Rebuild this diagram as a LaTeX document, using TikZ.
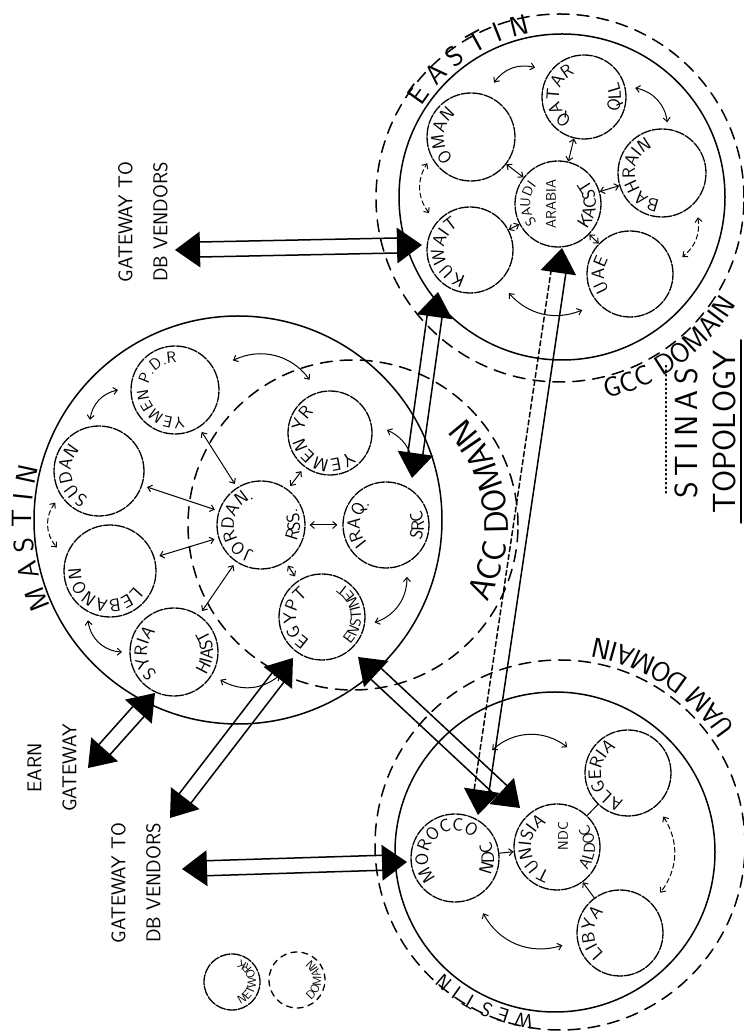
\documentclass[tikz,border=0pt]{standalone}
\usetikzlibrary{calc,arrows.meta,decorations.text}
\newcommand\labf{\fontsize{18}{21}\selectfont\sffamily}
\newcommand\labm{\fontsize{16}{19}\selectfont\sffamily}
\newcommand\labe{\fontsize{15}{18}\selectfont\sffamily}
\newcommand\labs{\fontsize{14}{16}\selectfont\sffamily}
\newcommand\legf{\fontsize{12}{14}\selectfont\sffamily}
\newcommand\bigf{\fontsize{28}{32}\selectfont\sffamily}
\newcommand\gccf{\fontsize{28}{32}\selectfont\sffamily}
\newcommand\accf{\fontsize{34}{38}\selectfont\sffamily}
\newcommand\wesf{\fontsize{20}{24}\selectfont\sffamily}
\newcommand\gwf{\fontsize{20}{35}\selectfont\sffamily}
\newcommand\titf{\fontsize{32}{36}\selectfont\sffamily}
% text along an arc round a named node: node, radius, mid angle, signed half span, text
\newcommand\arclab[5]{%
  \path[decorate,decoration={text along path,text align=center,text={#5}}]
    ($(#1)+({#3-(#4)}:#2pt)$) arc[start angle={#3-(#4)},end angle={#3+(#4)},radius=#2pt];}
% hollow double arrow with two filled heads between two named coordinates
\newcommand\dblarr[3][]{%
  \fill (#2) -- ($(#2)!25pt!(#3)!18pt!90:(#3)$) -- ($(#2)!25pt!(#3)!18pt!-90:(#3)$) -- cycle;
  \fill (#3) -- ($(#3)!25pt!(#2)!18pt!90:(#2)$) -- ($(#3)!25pt!(#2)!18pt!-90:(#2)$) -- cycle;
  \draw[shaft] ($(#2)!23pt!(#3)!7.5pt!90:(#3)$) -- ($(#3)!23pt!(#2)!7.5pt!-90:(#2)$);
  \draw[shaft,#1] ($(#2)!23pt!(#3)!7.5pt!-90:(#3)$) -- ($(#3)!23pt!(#2)!7.5pt!90:(#2)$);}
\begin{document}
\begin{tikzpicture}[x=1pt,y=1pt,line cap=round,
  big/.style={circle,draw,line width=1.5pt,inner sep=0pt,minimum size=#1},
  dom/.style={circle,draw,line width=1.5pt,dash pattern=on 12pt off 8pt,inner sep=0pt,minimum size=#1},
  ctry/.style={circle,draw,line width=1.3pt,dash pattern=on 10pt off 1.5pt,inner sep=0pt,minimum size=#1},
  arr/.style={line width=1pt,{Straight Barb[length=4pt,width=7pt]}-{Straight Barb[length=4pt,width=7pt]}},
  onearr/.style={line width=1pt,-{Straight Barb[length=4pt,width=7pt]}},
  dsh/.style={dash pattern=on 5pt off 3pt},
  shaft/.style={line width=1.5pt}]
\useasboundingbox (0,0) rectangle (744,1034);

% ---- network and domain circles
\node[big=408pt] (mastin) at (238,514) {};
\node[dom=330pt] (acc) at (353,509) {};
\node[big=326pt] (eastin) at (562,837) {};
\node[dom=368pt] (gcc) at (560,836) {};
\node[big=320pt] (westin) at (555,182) {};
\node[dom=370pt] (uam) at (560,189) {};

% ---- MASTIN members
\node[ctry=88pt] (syria) at (174,382) {};
\node[ctry=92pt] (lebanon) at (110,463) {};
\node[ctry=90pt] (sudan) at (99,563) {};
\node[ctry=88pt] (ypdr) at (175,644) {};
\node[ctry=84pt] (yyr) at (330,601) {};
\node[ctry=88pt] (jordan) at (261,509) {};
\node[ctry=86pt] (iraq) at (386,509) {};
\node[ctry=86pt] (egypt) at (322,417) {};
% ---- EASTIN members
\node[ctry=88pt] (oman) at (471,897) {};
\node[ctry=86pt] (kuwait) at (470,784) {};
\node[ctry=84pt] (qatar) at (584,937) {};
\node[ctry=88pt] (bahrain) at (662,861) {};
\node[ctry=86pt] (uae) at (630,760) {};
\node[ctry=86pt] (saudi) at (558,830) {};
% ---- WESTIN members
\node[ctry=88pt] (morocco) at (455,176) {};
\node[ctry=86pt] (tunisia) at (557,187) {};
\node[ctry=86pt] (algeria) at (628,261) {};
\node[ctry=86pt] (libya) at (620,101) {};
% ---- legend
\node[ctry=56pt] (leg1) at (232,52) {};
\node[circle,draw,line width=1.3pt,dash pattern=on 6pt off 5pt,inner sep=0pt,minimum size=56pt] (leg2) at (297,54) {};

% ---- member labels
\arclab{syria}{27}{182}{-85}{|\labf|SYRIA}
\arclab{syria}{39}{0}{80}{|\labf|HIAST}
\arclab{lebanon}{29}{250}{-100}{|\labf|LEBANON}
\arclab{sudan}{28}{190}{-85}{|\labf|SUDAN}
\arclab{ypdr}{27}{187}{-125}{|\labm|YEMEN P.D.R}
\arclab{yyr}{26}{222}{-115}{|\labf|YEMEN YR}
\arclab{jordan}{27}{180}{-100}{|\labf|JORDAN.}
\arclab{jordan}{39}{0}{70}{|\labf|RSS.}
\arclab{iraq}{26}{175}{-85}{|\labf|IRAQ.}
\arclab{iraq}{38}{0}{70}{|\labf|SRC}
\arclab{egypt}{26}{182}{-85}{|\labf|EGYPT}
\arclab{egypt}{39}{8}{85}{|\labe|ENSTINET}
\arclab{oman}{27}{177}{-85}{|\labf|OMAN}
\arclab{kuwait}{26}{188}{-100}{|\labf|KUWAIT}
\arclab{qatar}{25}{177}{-90}{|\labf|QATAR}
\arclab{qatar}{37}{0}{60}{|\labf|QLL}
\arclab{bahrain}{27}{188}{-105}{|\labf|BAHRAIN}
\arclab{uae}{26}{182}{-75}{|\labf|UAE}
\arclab{saudi}{28}{180}{-80}{|\labs|SAUDI}
\node[rotate=90,font=\labs] (arabia) at ($(saudi)+(-7,0)$) {ARABIA};
\arclab{saudi}{38}{0}{70}{|\labf|KACST}
\arclab{morocco}{27}{137}{-105}{|\labf|MOROCCO}
\arclab{morocco}{39}{0}{60}{|\labf|NDC}
\arclab{tunisia}{26}{185}{-95}{|\labf|TUNISIA}
\node[rotate=90,font=\labs] (tndc) at ($(tunisia)+(6,11)$) {NDC};
\arclab{tunisia}{38}{0}{75}{|\labm|ALDOC}
\arclab{algeria}{27}{188}{-100}{|\labf|ALGERIA}
\arclab{libya}{26}{180}{-85}{|\labf|LIBYA}
\arclab{leg1}{24}{0}{88}{|\legf|NETWORK}
\arclab{leg2}{24}{0}{85}{|\legf|DOMAIN}

% ---- network / domain labels
\arclab{mastin}{206}{185}{-30}{|\bigf|M A S T I N}
\arclab{eastin}{167}{124}{-35}{|\bigf|E A S T I N}
\arclab{gcc}{206}{-54}{40}{|\gccf|GCC DOMAIN}
\arclab{acc}{155}{7}{55}{|\accf|ACC DOMAIN}
\arclab{uam}{210}{57}{45}{|\gccf|UAM DOMAIN}
\arclab{westin}{165}{245}{-30}{|\wesf|W E S T I N}

% ---- MASTIN links
\draw[arr] ($(sudan)+(100:52pt)$) to[bend left=35] ($(ypdr)+(180:57pt)$);
\draw[arr] ($(ypdr)+(27:65pt)$) to[bend left=40] ($(yyr)+(111:57pt)$);
\draw[arr,dsh] ($(sudan)+(216:54pt)$) to[bend right=40] ($(lebanon)+(156:58pt)$);
\draw[arr] ($(lebanon)+(246:54pt)$) to[bend right=40] ($(syria)+(180:52pt)$);
\draw[arr] ($(syria)+(-31:54pt)$) to[bend right=35] ($(egypt)+(234:72pt)$);
\draw[arr] ($(egypt)+(-6:53pt)$) to[bend right=35] ($(iraq)+(292:56pt)$);
\draw[arr] ($(yyr)+(3:57pt)$) to[bend left=30] ($(iraq)+(65:64pt)$);
\foreach \n in {ypdr,sudan,lebanon,syria,egypt,iraq,yyr}
  \draw[arr,shorten <=4pt,shorten >=5pt] (jordan) -- (\n);

% ---- EASTIN links
\draw[arr] ($(oman)+(67:59pt)$) to[bend left=35] ($(qatar)+(149:57pt)$);
\draw[arr] ($(qatar)+(10:52pt)$) to[bend left=35] ($(bahrain)+(84:51pt)$);
\draw[arr,dsh] ($(bahrain)+(-51:57pt)$) to[bend left=30] ($(uae)+(18:55pt)$);
\draw[arr] ($(uae)+(217:60pt)$) to[bend left=35] ($(kuwait)+(-48:58pt)$);
\draw[arr,dsh] ($(kuwait)+(138:55pt)$) to[bend left=35] ($(oman)+(211:51pt)$);
\foreach \n in {qatar,bahrain,uae,oman,kuwait}
  \draw[arr] (saudi) -- (\n);

% ---- WESTIN links
\draw[arr] ($(morocco)+(71:114pt)$) to[bend left=40] ($(algeria)+(157:66pt)$);
\draw[arr,dsh] ($(algeria)+(-51:56pt)$) to[bend left=35] ($(libya)+(45:57pt)$);
\draw[arr] ($(morocco)+(-63:62pt)$) to[bend right=40] ($(libya)+(192:59pt)$);
\draw[onearr] (morocco) -- (tunisia);
\draw[line width=1pt] (tunisia) -- (algeria);
\draw[onearr] (libya) -- (tunisia);

% ---- gateway and inter-network links
\coordinate (g1a) at (175,784); \coordinate (g1b) at (422,789);
\coordinate (g2a) at (182,165); \coordinate (g2b) at (407,172);
\coordinate (e1) at (88,266);   \coordinate (e2) at (155,341);
\coordinate (d4a) at (170,216); \coordinate (d4b) at (293,376);
\coordinate (d5a) at (358,377); \coordinate (d5b) at (520,226);
\coordinate (d6a) at (412,556); \coordinate (d6b) at (438,742);
\coordinate (d7a) at (562,786); \coordinate (d7b) at (478,219);
\dblarr{g1a}{g1b}
\dblarr{g2a}{g2b}
\dblarr{e1}{e2}
\dblarr{d4a}{d4b}
\dblarr{d5a}{d5b}
\dblarr{d6a}{d6b}
\dblarr[dsh]{d7a}{d7b}

% ---- free labels
\node[rotate=90,align=center,font=\gwf] (gw1) at (143,812) {GATEWAY TO\\DB VENDORS};
\node[rotate=90,align=center,font=\gwf] (gw2) at (136,151) {GATEWAY TO\\DB VENDORS};
\node[rotate=90,align=center,font=\gwf] (earn) at (52,266) {EARN\\GATEWAY};
\node[rotate=90,font=\titf] (t1) at (686,601) {S\,T\,I\,N\,A\,S};
\node[rotate=90,font=\titf] (t2) at (724,602) {TOPOLOGY};
\draw[line width=1.2pt,dash pattern=on 1.5pt off 3pt] (666,541) -- (666,671);
\draw[line width=1.5pt] (741,511) -- (741,694);
\end{tikzpicture}
\end{document}
